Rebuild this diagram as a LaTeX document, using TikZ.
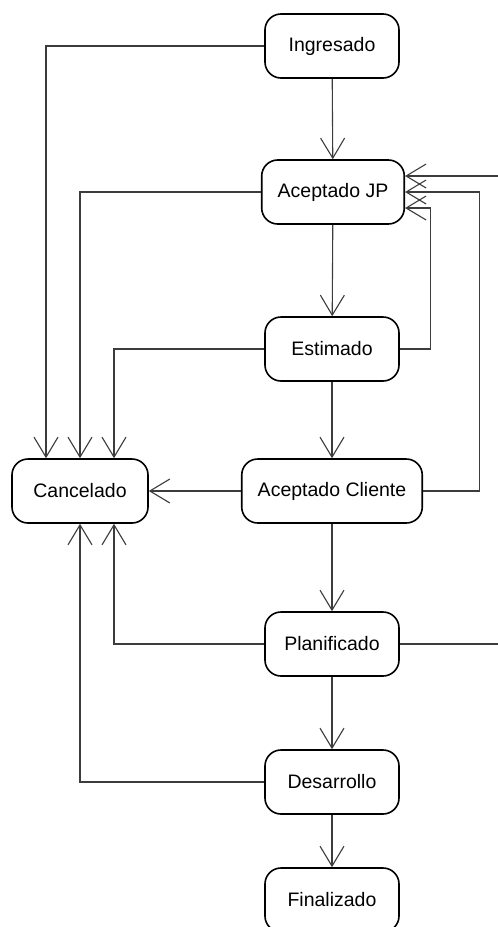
\documentclass[tikz,border=0pt]{standalone}
\usepackage{fontspec}
\setmainfont{Liberation Sans}
\usepackage{xcolor}
\usepackage{tikz}
\usetikzlibrary{arrows.meta, positioning, calc}
\definecolor{edgegray}{RGB}{60, 60, 60}

\begin{document}
\begin{tikzpicture}[x=1pt, y=-1pt,
    statebox/.style={draw=black, line width=1.6pt, rounded corners=16pt, minimum width=134pt,
        minimum height=64pt, inner xsep=16pt, font=\fontsize{19.5}{22}\selectfont},
    flow/.style={draw=edgegray, line width=1.1pt, -{Straight Barb[length=20pt, width=24pt]}}]
    \useasboundingbox (0,0) rectangle (498,927);

    % States
    \node[statebox] (ing) at (332, 46) {Ingresado};
    \node[statebox] (ajp) at (333, 192) {Aceptado JP};
    \node[statebox] (est) at (332, 349) {Estimado};
    \node[statebox] (acl) at (332, 491) {Aceptado Cliente};
    \node[statebox, minimum width=136pt] (can) at (80, 491) {Cancelado};
    \node[statebox] (pla) at (332, 644) {Planificado};
    \node[statebox] (des) at (332, 782) {Desarrollo};
    \node[statebox] (fin) at (332, 900) {Finalizado};

    % Main path
    \draw[flow] (ing) -- (ajp);
    \draw[flow] (ajp) -- (est);
    \draw[flow] (est) -- (acl);
    \draw[flow] (acl) -- (pla);
    \draw[flow] (pla) -- (des);
    \draw[flow] (des) -- (fin);

    % Cancellations
    \draw[flow] (ing.west) -| ([xshift=-34pt]can.north);
    \draw[flow] (ajp.west) -| (can.north);
    \draw[flow] (est.west) -| ([xshift=34pt]can.north);
    \draw[flow] (acl) -- (can);
    \draw[flow] (pla.west) -| ([xshift=34pt]can.south);
    \draw[flow] (des.west) -| (can.south);

    % Back to Aceptado JP
    \coordinate (farright) at (512, 644);
    \draw[flow] (est.east) -- ++(31,0) |- ([yshift=-16pt]ajp.east);
    \draw[flow] (acl.east) -- ++(56,0) |- (ajp.east);
    \draw[flow] (pla.east) -- (farright) |- ([yshift=16pt]ajp.east);
\end{tikzpicture}
\end{document}
